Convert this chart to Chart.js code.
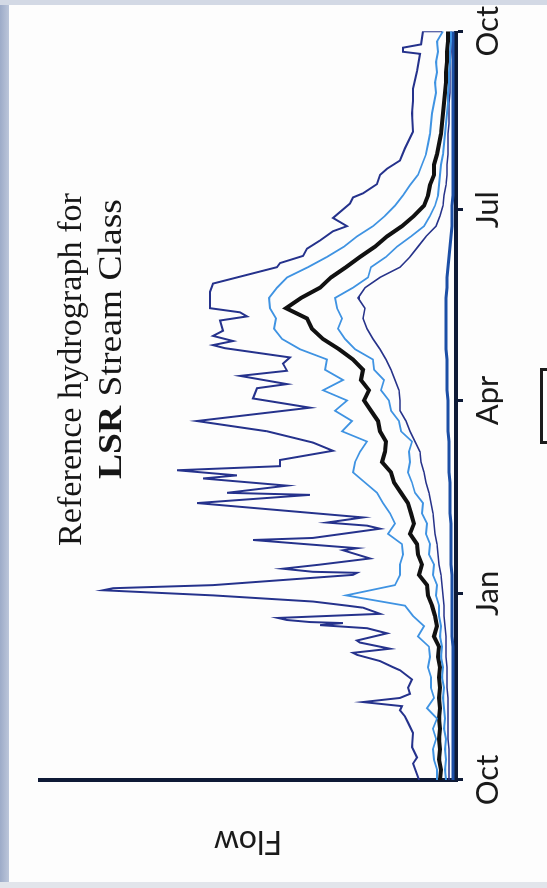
<!DOCTYPE html>
<html>
<head>
<meta charset="utf-8">
<script src="https://cdn.jsdelivr.net/npm/chart.js@4.4.1/dist/chart.umd.min.js"></script>
<style>
  html, body { margin: 0; padding: 0; }
  body { width: 547px; height: 888px; overflow: hidden; position: relative; background: #fdfdfd; }
  #edgeLeft { position: absolute; left: 0; top: 0; width: 9px; height: 888px; background: linear-gradient(to right, #9dabc8, #bcc6da); }
  #edgeTop { position: absolute; left: 0; top: 0; width: 547px; height: 5px; background: #d3d9e5; }
  #edgeBottom { position: absolute; left: 0; top: 882px; width: 547px; height: 6px; background: #e2e5eb; }
  #legendEdge { position: absolute; left: 540px; top: 368px; width: 20px; height: 70px; border: 3px solid #1c1c1c; }
  #wrap { position: absolute; left: 0; top: 0; width: 888px; height: 547px; transform-origin: 0 0; transform: translateY(888px) rotate(-90deg); }
</style>
</head>
<body>
<div id="edgeLeft"></div>
<div id="edgeTop"></div>
<div id="edgeBottom"></div>
<div id="legendEdge"></div>
<div id="wrap"><canvas id="hydro" width="888" height="547"></canvas></div>
<script>
// day of water year (0 = 1 Oct), sampled every 5 days
const days = [
    0, 5, 10, 15, 20, 25, 30, 35, 40, 45,
    50, 55, 60, 65, 70, 75, 80, 85, 90, 95,
    100, 105, 110, 115, 120, 125, 130, 135, 140, 145,
    150, 155, 160, 165, 170, 175, 180, 185, 190, 195,
    200, 205, 210, 215, 220, 225, 230, 235, 240, 245,
    250, 255, 260, 265, 270, 275, 280, 285, 290, 295,
    300, 305, 310, 315, 320, 325, 330, 335, 340, 345,
    350, 355, 360, 365
];

const p75Flow = [
    19, 19, 22, 23, 20, 23, 19, 29, 22, 25,
    25, 28, 26, 27, 38, 32, 43, 51, 110, 61,
    56, 56, 53, 54, 68, 61, 66, 73, 79, 91,
    103, 101, 96, 89, 114, 104, 121, 109, 133, 113,
    131, 129, 156, 174, 182, 180, 186, 187, 179, 169,
    148, 129, 112, 99, 83, 71, 61, 53, 46, 38,
    34, 30, 28, 26, 25, 24, 22, 20, 21, 19,
    20, 18, 19, 13
];

const medianFlow = [
    16, 15, 17, 16, 17, 16, 17, 16, 17, 16,
    17, 16, 18, 17, 22, 19, 21, 24, 28, 29,
    37, 34, 38, 39, 46, 42, 45, 48, 55, 62,
    65, 74, 71, 70, 76, 78, 85, 92, 87, 95,
    93, 103, 117, 133, 144, 149, 170, 155, 136, 125,
    110, 96, 81, 69, 54, 42, 32, 28, 26, 22,
    22, 19, 17, 15, 14, 13, 12, 11, 10, 10,
    9, 9, 8, 8
];

const p25Flow = [
    10, 11, 10, 11, 10, 12, 11, 12, 13, 12,
    14, 13, 15, 14, 16, 15, 17, 17, 20, 19,
    23, 22, 27, 26, 30, 29, 34, 33, 41, 44,
    48, 46, 47, 44, 55, 57, 65, 67, 75, 72,
    82, 83, 101, 111, 118, 114, 119, 121, 103, 88,
    85, 70, 59, 45, 32, 26, 21, 18, 17, 16,
    15, 13, 12, 11, 10, 9, 8, 8, 7, 7,
    6, 6, 5, 5
];

const p10Flow = [
    7, 7, 7, 7, 8, 8, 8, 8, 8, 9,
    9, 9, 10, 10, 10, 11, 12, 12, 13, 14,
    15, 17, 18, 19, 21, 22, 23, 25, 27, 30,
    32, 35, 36, 41, 46, 50, 56, 56, 57, 61,
    65, 70, 76, 83, 89, 93, 91, 98, 91, 76,
    56, 46, 38, 30, 20, 16, 13, 12, 10, 9,
    9, 8, 8, 8, 7, 7, 7, 6, 6, 6,
    6, 5, 5, 5
];

const minFlow = [
    3, 3, 3, 3, 3, 3, 3, 3, 3, 3,
    3, 3, 3, 3, 4, 4, 4, 4, 4, 4,
    4, 5, 5, 5, 5, 5, 6, 6, 6, 6,
    7, 7, 7, 7, 8, 8, 8, 8, 9, 9,
    9, 9, 10, 10, 10, 10, 10, 10, 9, 9,
    8, 7, 6, 5, 4, 4, 4, 3, 3, 3,
    3, 3, 3, 3, 3, 3, 3, 3, 3, 3,
    3, 3, 3, 3
];

// maximum flow, read at its turning points
const maxDays = [
    0, 8, 11, 16, 23, 28, 31, 34, 36, 38, 40, 42, 45, 49, 53.5, 55, 58, 61, 62, 64,
    67, 68, 71.5, 74, 75.5, 76.5, 77, 78, 79, 81, 84, 85, 87, 90, 92.5, 93.5, 95, 100, 101, 101.5,
    103, 105, 108, 112, 113, 117, 118, 122.5, 124, 125.5, 128, 135, 139, 140, 143.5, 147, 148.5, 151, 153, 156,
    160.5, 164.5, 170, 175, 181.5, 186, 191, 193, 197, 199.5, 203, 206, 210.5, 212, 214, 216.5, 219, 224, 226, 228,
    230, 238, 242, 247, 250, 252, 255.5, 259, 263, 267.5, 270, 274, 281, 284, 286, 290.5, 295, 298, 302, 308,
    316, 325, 331, 337, 345.5, 354, 355, 357, 358.6, 365, 365
];
const maxFlow = [
    37, 43, 39, 44, 43, 48, 51, 56, 54, 93, 56, 46, 48, 44, 56, 63, 76, 99, 103, 66,
    96, 99, 69, 89, 136, 113, 146, 169, 178, 76, 93, 109, 143, 243, 353, 343, 243, 103, 99, 143,
    173, 136, 86, 113, 99, 203, 143, 76, 89, 129, 93, 259, 146, 229, 169, 253, 219, 279, 176, 176,
    123, 143, 189, 259, 146, 203, 199, 169, 216, 169, 173, 166, 231, 243, 223, 243, 233, 236, 209, 216,
    246, 246, 243, 203, 179, 176, 153, 149, 136, 123, 109, 123, 106, 103, 93, 79, 76, 69, 56, 51,
    43, 44, 43, 43, 39, 36, 53, 53, 35, 33, 14
];

const tickDays = [0, 91, 185, 278, 365];
const tickLabels = ['Oct', 'Jan', 'Apr', 'Jul', 'Oct'];

const axisColor = '#0e1a36';

function pts(xs, ys) {
    return xs.map((x, i) => ({ x: x, y: ys[i] }));
}

function line(label, xs, ys, color, width) {
    return {
        label: label,
        data: pts(xs, ys),
        borderColor: color,
        borderWidth: width,
        pointRadius: 0,
        tension: 0,
        fill: false
    };
}

// draws a text run squeezed/stretched to a given width
function fitText(ctx, parts, x, y, targetWidth) {
    let total = 0;
    parts.forEach((p) => { ctx.font = p.font; total += ctx.measureText(p.text).width; });
    const k = targetWidth / total;
    ctx.save();
    ctx.translate(x, y);
    ctx.scale(k, 1);
    let cx = 0;
    parts.forEach((p) => {
        ctx.font = p.font;
        ctx.fillText(p.text, cx, 0);
        cx += ctx.measureText(p.text).width;
    });
    ctx.restore();
}

const titlePlugin = {
    id: 'posterTitle',
    afterDraw(chart) {
        const ctx = chart.ctx;
        const reg = '34px "Liberation Serif"';
        const bold = 'bold 34px "Liberation Serif"';
        ctx.save();
        ctx.fillStyle = '#161616';
        ctx.textBaseline = 'alphabetic';
        fitText(ctx, [{ text: 'Reference hydrograph for', font: reg }], 342, 81, 353);
        fitText(ctx, [{ text: 'LSR ', font: bold }, { text: 'Stream Class', font: reg }], 409, 121, 280);
        ctx.restore();
    }
};

new Chart(document.getElementById('hydro').getContext('2d'), {
    type: 'line',
    data: {
        datasets: [
            line('Maximum', maxDays, maxFlow, '#25328c', 2),
            line('75th percentile', days, p75Flow, '#3f93e2', 1.8),
            line('25th percentile', days, p25Flow, '#3f93e2', 1.8),
            line('10th percentile', days, p10Flow, '#27338a', 1.6),
            line('Minimum', days, minFlow, '#1c4fa6', 3),
            line('Median', days, medianFlow, '#111111', 4)
        ]
    },
    options: {
        responsive: false,
        animation: false,
        layout: {
            padding: { left: 0, right: 28, top: 40, bottom: 0 }
        },
        plugins: {
            legend: { display: false },
            tooltip: { enabled: false }
        },
        scales: {
            x: {
                type: 'linear',
                min: 0,
                max: 365,
                afterFit(s) { s.height = 91; },
                afterBuildTicks(s) {
                    s.ticks = tickDays.map((v) => ({ value: v }));
                },
                ticks: {
                    autoSkip: false,
                    maxRotation: 0,
                    padding: 6,
                    color: '#1a1a1a',
                    font: { family: 'Lato', size: 31 },
                    callback: (v) => tickLabels[tickDays.indexOf(v)]
                },
                grid: {
                    drawOnChartArea: false,
                    drawTicks: true,
                    tickLength: 7,
                    tickWidth: 3,
                    tickColor: axisColor
                },
                border: { display: true, width: 4, color: axisColor }
            },
            y: {
                min: 0,
                max: 416,
                afterFit(s) { s.width = 108; },
                ticks: { display: false },
                grid: { display: false },
                border: { display: true, width: 4, color: axisColor },
                title: {
                    display: true,
                    text: 'Flow',
                    color: '#1a1a1a',
                    font: { family: 'Lato', size: 32 },
                    padding: { top: 27, bottom: 0 }
                }
            }
        }
    },
    plugins: [titlePlugin]
});
</script>
</body>
</html>
